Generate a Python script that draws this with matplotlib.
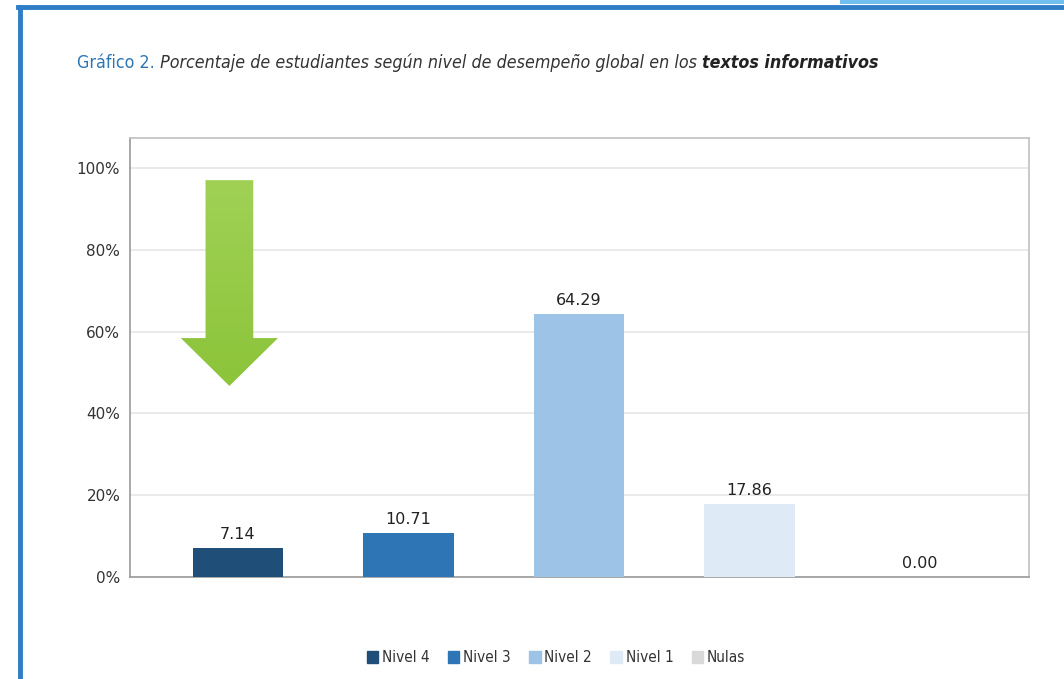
import matplotlib
matplotlib.use("Agg")
import numpy as np
import matplotlib.pyplot as plt
from matplotlib.patches import Polygon, Rectangle
from matplotlib.lines import Line2D

# data
niveles = ["Nivel 4", "Nivel 3", "Nivel 2", "Nivel 1", "Nulas"]
porcentajes = [7.14, 10.71, 64.29, 17.86, 0.00]
colores = ["#1f4e79", "#2e75b6", "#9dc3e6", "#deebf7", "#d9d9d9"]
y_ticks = [0, 20, 40, 60, 80, 100]
y_tick_labels = ["0%", "20%", "40%", "60%", "80%", "100%"]

titulo = [
    ("Gráfico 2.", "#2e75b6", "normal", "normal"),
    (" Porcentaje de estudiantes según nivel de desempeño global en los ", "#333333", "italic", "normal"),
    ("textos informativos", "#222222", "italic", "bold"),
]

fig = plt.figure(figsize=(10.64, 6.79), dpi=100)
fig.patch.set_facecolor("white")

# blue frame of the slide (top and left)
fig.add_artist(Line2D([18 / 1064, 1.0], [1 - 7 / 679, 1 - 7 / 679], color="#2e7dc6", lw=3.5))
fig.add_artist(Line2D([20 / 1064, 20 / 1064], [0, 1 - 7 / 679], color="#2e7dc6", lw=3.5))
fig.add_artist(Rectangle((840 / 1064, 1 - 4 / 679), 224 / 1064, 4 / 679,
                         transform=fig.transFigure, color="#6fc0ee", lw=0))

ax = fig.add_axes([130 / 1064, 1 - 577 / 679, 899 / 1064, 439 / 679])
x = list(range(len(niveles)))
bars = ax.bar(x, porcentajes, width=0.53, color=colores, zorder=3)
for b, v in zip(bars, porcentajes):
    ax.text(b.get_x() + b.get_width() / 2, v + 1.5, f"{v:.2f}",
            ha="center", va="bottom", fontsize=11.5, color="#222222")

ax.set_yticks(y_ticks)
ax.set_yticklabels(y_tick_labels, fontsize=11, color="#333333")
ax.set_xticks([])
ax.tick_params(axis="y", length=0, pad=7)
ax.grid(axis="y", color="#e6e6e6", lw=1.2, zorder=0)
for s in ax.spines.values():
    s.set_color("#c0c0c0")
    s.set_linewidth(1.2)
ax.spines["left"].set_color("#9a9a9a")
ax.spines["bottom"].set_color("#9a9a9a")

# green arrow pointing at the first bar, with a vertical gradient
cx = x[0] - 0.05
arrow = Polygon([(cx - 0.14, 97), (cx + 0.14, 97), (cx + 0.14, 58.4), (cx + 0.285, 58.4),
                 (cx, 46.7), (cx - 0.285, 58.4), (cx - 0.14, 58.4)],
                closed=True, facecolor="none", edgecolor="none", zorder=4)
ax.add_patch(arrow)
grad = np.linspace(0, 1, 100).reshape(-1, 1)
cmap = matplotlib.colors.LinearSegmentedColormap.from_list("g", ["#8cc43a", "#a0d155"])
img = ax.imshow(grad, cmap=cmap, origin="lower", aspect="auto", zorder=4,
                extent=(cx - 0.285, cx + 0.285, 46.7, 97))
img.set_clip_path(arrow)
ax.set_xlim(-0.633, 4.64)
ax.set_ylim(0, 107.3)

# legend
handles = [Rectangle((0, 0), 1, 1, color=c) for c in colores]
fig.legend(handles, niveles, loc="center", bbox_to_anchor=(556 / 1064, 1 - 658 / 679),
           ncol=5, frameon=False, handlelength=0.75, handleheight=0.85,
           handletextpad=0.25, columnspacing=1.2,
           prop={"family": "DejaVu Sans", "stretch": "condensed", "size": 11},
           labelcolor="#333333")

# title made of pieces with different styles, fitted to the reference width
fig.canvas.draw()
renderer = fig.canvas.get_renderer()


def put_title(size):
    pieces = []
    xpos = 77 / 1064
    for txt, col, style, weight in titulo:
        t = fig.text(xpos, 1 - 63 / 679, txt, color=col, fontstyle=style, fontweight=weight,
                     fontsize=size, family="DejaVu Sans", fontstretch="condensed",
                     va="center", ha="left")
        bb = t.get_window_extent(renderer=renderer)
        xpos = bb.x1 / fig.bbox.width
        pieces.append(t)
    return pieces, xpos * 1064 - 77


pieces, width = put_title(15)
for p in pieces:
    p.remove()
put_title(15 * 798 / width)

fig.savefig("out.png", dpi=100)
